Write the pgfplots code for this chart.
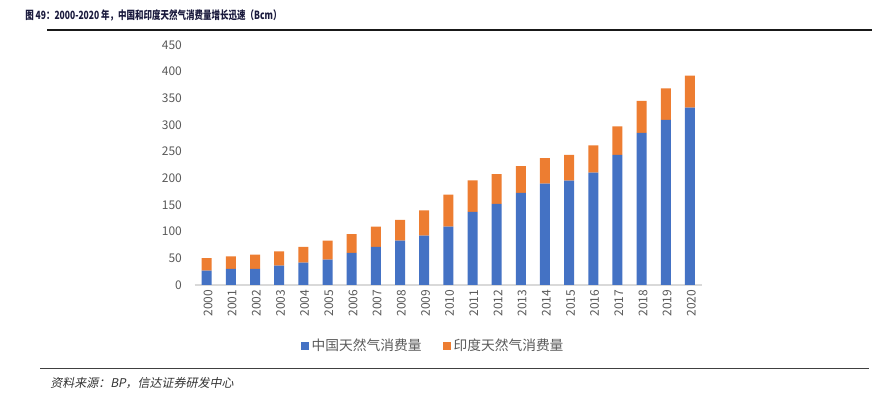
\documentclass[border=0pt]{standalone}
\usepackage{pgfplots}
\pgfplotsset{compat=1.18}
\usepackage{fontspec}
\setmainfont{Noto Sans CJK SC}
\newfontfamily\cjk{Noto Sans CJK SC}
\newfontfamily\titlefont[FakeStretch=0.75]{Noto Sans CJK SC}
\newfontfamily\cjkit[FakeSlant=0.2]{Noto Sans CJK SC}
\definecolor{cnblue}{RGB}{68,114,196}
\definecolor{inorange}{RGB}{237,125,49}
\definecolor{ticktext}{RGB}{89,89,89}
\definecolor{titlecol}{RGB}{25,25,60}
\begin{document}
\begin{tikzpicture}
\path (0,0) rectangle (659.25pt,297pt);
\draw[line width=1.1pt, black!90] (35.25pt,274.5pt) -- (654pt,274.5pt);
\draw[line width=0.9pt, black!75] (30pt,20.5pt) -- (651.75pt,20.5pt);
\node[anchor=west, inner sep=0pt, text=titlecol, font=\fontsize{8.5pt}{10pt}\titlefont\bfseries] at (18.75pt,285.75pt) {图 49：2000-2020 年，中国和印度天然气消费量增长迅速（Bcm）};
\node[anchor=west, inner sep=0pt, text=black!80, font=\fontsize{9pt}{10pt}\cjkit] at (37.5pt,9.75pt) {资料来源：BP，信达证券研发中心};
\begin{axis}[
  at={(145.95pt,83.25pt)}, anchor=south west,
  scale only axis, width=380.6pt, height=180pt,
  ybar stacked, bar width=7.5pt,
  xmin=-0.5, xmax=20.5, ymin=0, ymax=450,
  ytick={0,50,...,450},
  xtick=data,
  xticklabels={2000,2001,2002,2003,2004,2005,2006,2007,2008,2009,2010,2011,2012,2013,2014,2015,2016,2017,2018,2019,2020},
  axis x line*=bottom, axis y line*=left,
  x axis line style={draw={rgb,255:red,217;green,217;blue,217}, line width=0.9pt, -},
  y axis line style={draw=none},
  major tick length=0pt,
  /pgf/number format/assume math mode=true,
  ticklabel style={font=\fontsize{9pt}{10pt}\selectfont, text=ticktext},
  yticklabel style={xshift=-6pt},
  xticklabel style={rotate=90, anchor=east, yshift=-1pt},
  legend style={at={(0.471,-0.254)}, anchor=center, draw=none, fill=none,
    font=\fontsize{10.3pt}{12pt}\selectfont, text=ticktext,
    /tikz/every even column/.append style={column sep=14pt}},
  legend columns=2,
  legend image code/.code={\fill[#1] (0pt,-3pt) rectangle (6pt,3pt);},
]
\addplot[fill=cnblue, draw=none] coordinates {
(0,26.8) (1,30.0) (2,30.0) (3,36.3) (4,41.9) (5,47.5) (6,60.0) (7,71.3) (8,83.1) (9,92.5) (10,109.4)
(11,136.9) (12,151.9) (13,172.5) (14,190.0) (15,195.6) (16,210.6) (17,243.8) (18,285.0) (19,309.4) (20,332.5)};
\addlegendentry{中国天然气消费量}
\addplot[fill=inorange, draw=none] coordinates {
(0,23.8) (1,23.8) (2,26.9) (3,26.8) (4,29.4) (5,35.6) (6,35.6) (7,38.1) (8,38.8) (9,47.5) (10,60.0)
(11,59.4) (12,56.2) (13,50.6) (14,48.1) (15,48.2) (16,51.3) (17,53.7) (18,60.0) (19,59.4) (20,60.0)};
\addlegendentry{印度天然气消费量}
\end{axis}
\end{tikzpicture}
\end{document}
